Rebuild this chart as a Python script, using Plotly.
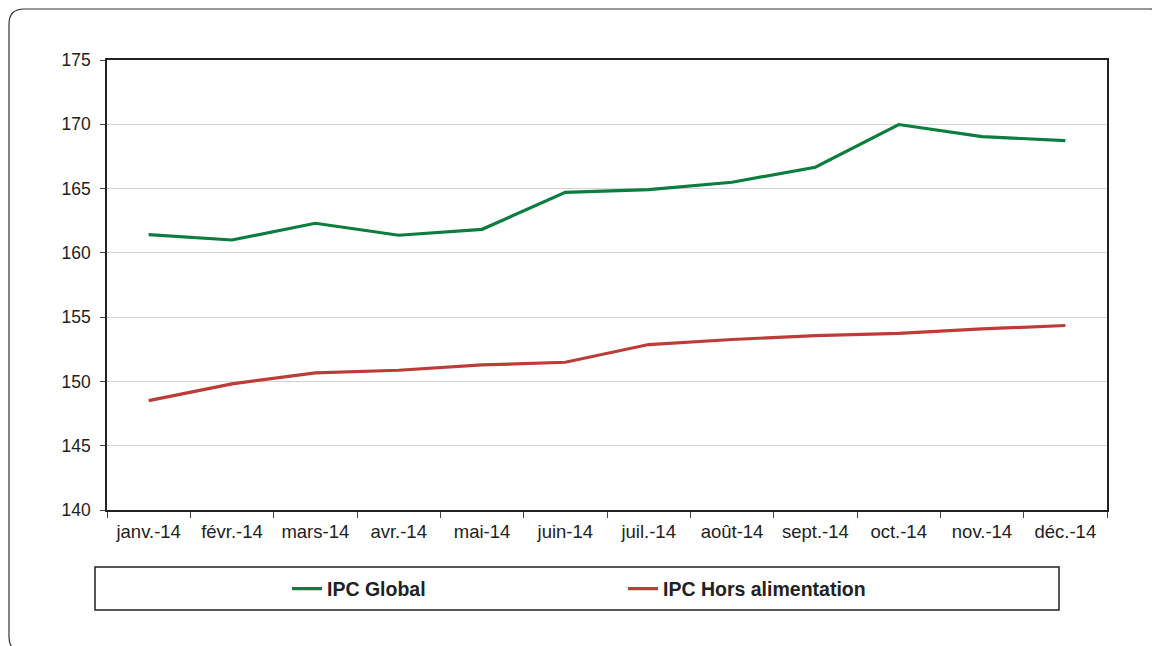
import plotly.graph_objects as go

# Données
mois = ['janv.-14', 'févr.-14', 'mars-14', 'avr.-14', 'mai-14', 'juin-14',
        'juil.-14', 'août-14', 'sept.-14', 'oct.-14', 'nov.-14', 'déc.-14']
ipc_global = [161.42, 161.00, 162.30, 161.37, 161.83, 164.71,
              164.92, 165.49, 166.66, 169.98, 169.04, 168.73]
ipc_hors_alim = [148.51, 149.81, 150.66, 150.87, 151.28, 151.49,
                 152.87, 153.26, 153.57, 153.73, 154.08, 154.35]

# la page html a une marge de 8 px : on décale tout
OFF = 8
W, H = 1160 - OFF, 646 - OFF
L, R, T, B = 107 - OFF, 53, 60 - OFF, 136
PW, PH = W - L - R, H - T - B


def px(x, y):
    # pixel (repère de l'image de référence) -> coordonnées paper
    return (x - OFF - L) / PW, (H - B - (y - OFF)) / PH


fig = go.Figure()
fig.add_trace(go.Scatter(x=mois, y=ipc_global, mode='lines', name='IPC Global',
                         line=dict(color='#0b7d3e', width=3.2)))
fig.add_trace(go.Scatter(x=mois, y=ipc_hors_alim, mode='lines',
                         name='IPC Hors alimentation',
                         line=dict(color='#be3c37', width=3.2)))

# cadre de légende
x0, y0 = px(95, 567)
x1, y1 = px(1059, 610)
shapes = [dict(type='rect', xref='paper', yref='paper', x0=x0, y0=y0,
               x1=x1, y1=y1, line=dict(color='#222', width=1.5),
               fillcolor='rgba(0,0,0,0)', layer='below')]

# cadre extérieur arrondi
r = 15
ax, ay = 9, 9
bx, by = 1165, 652


def P(x, y):
    u, v = px(x, y)
    return f'{u:.5f},{v:.5f}'


path = (f'M {P(ax + r, ay)} L {P(bx - r, ay)} Q {P(bx, ay)} {P(bx, ay + r)} '
        f'L {P(bx, by - r)} Q {P(bx, by)} {P(bx - r, by)} '
        f'L {P(ax + r, by)} Q {P(ax, by)} {P(ax, by - r)} '
        f'L {P(ax, ay + r)} Q {P(ax, ay)} {P(ax + r, ay)} Z')
shapes.append(dict(type='path', xref='paper', yref='paper', path=path,
                   line=dict(color='#333', width=1.2)))

lx, ly = px(287, 589)
fig.update_layout(
    width=W, height=H,
    margin=dict(l=L, r=R, t=T, b=B),
    paper_bgcolor='white', plot_bgcolor='white',
    font=dict(family='Liberation Sans, Arial, sans-serif', size=17.5, color='#222'),
    showlegend=True,
    legend=dict(orientation='h', x=lx, y=ly, xanchor='left', yanchor='middle',
                font=dict(size=19.5, color='#222',
                          family='Liberation Sans, Arial, sans-serif', weight='bold'),
                entrywidth=291, entrywidthmode='pixels',
                bgcolor='rgba(0,0,0,0)'),
    shapes=shapes,
)
fig.update_xaxes(type='category', range=[-0.5, 11.5], showgrid=False,
                 showline=True, mirror=True, linecolor='#222', linewidth=1.5,
                 ticks='outside', ticklen=6, tickcolor='#444', tickson='boundaries',
                 ticklabelstandoff=4, tickfont=dict(size=18.5))
fig.update_yaxes(range=[140, 175], dtick=5, showgrid=True, gridcolor='#d4d4d4',
                 gridwidth=1, showline=True, mirror=True, linecolor='#222',
                 linewidth=1.5, ticks='outside', ticklen=5, tickcolor='#444',
                 ticklabelstandoff=6, zeroline=False)

fig.write_html('out.html')
